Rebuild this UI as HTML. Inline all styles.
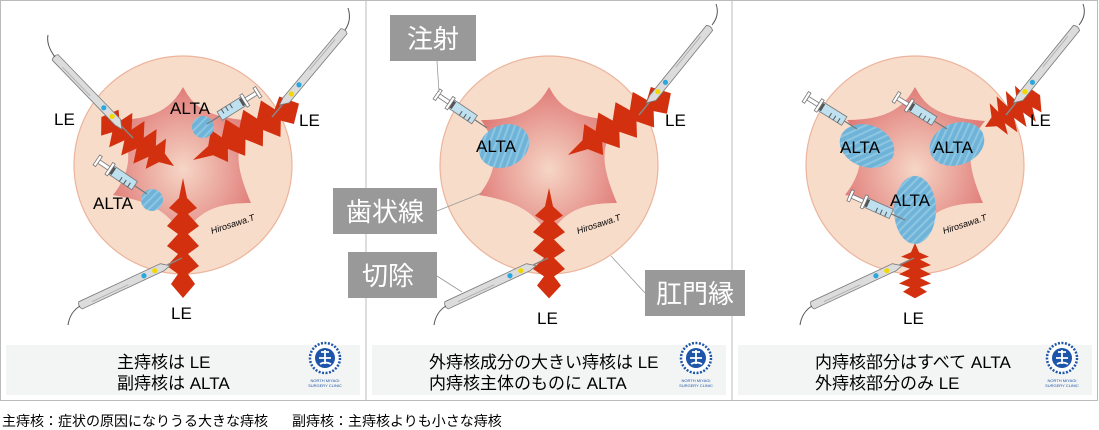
<!DOCTYPE html>
<html><head><meta charset="utf-8"><style>
body{margin:0;background:#fff}
svg{display:block}
text{font-family:"Liberation Sans","Noto Sans CJK JP",sans-serif}
</style></head><body>
<svg width="1099" height="430" viewBox="0 0 1099 430" xmlns="http://www.w3.org/2000/svg">
<defs>
<radialGradient id="sg" cx="0.5" cy="0.55" r="0.55">
<stop offset="0" stop-color="#f6d6c6"/><stop offset="1" stop-color="#e07c78"/>
</radialGradient>
<pattern id="hatch" width="6" height="6" patternUnits="userSpaceOnUse" patternTransform="rotate(45)">
<rect width="6" height="6" fill="#6fb4d8"/><rect width="2" height="6" fill="#8ec6e2"/>
</pattern>
<g id="star">
<circle r="109" fill="#f8dcca" stroke="#ecb49c" stroke-width="1.2"/>
<path d="M0,-78 C10,-60 20,-48 70,-44 C50,-20 52,0 68,38 C35,38 15,45 0,72 C-15,45 -35,36 -70,30 C-50,5 -50,-20 -68,-45 C-25,-45 -10,-60 0,-78Z" fill="url(#sg)"/>
</g>
<path id="zz" d="M0,0 L4,20 L14,30 L5,36 L16,48 L5,56 L16,68 L5,76 L16,88 L5,96 L12,106 L0,120 L-12,106 L-5,96 L-16,88 L-5,76 L-16,68 L-5,56 L-16,48 L-5,36 L-14,30 L-4,20Z" fill="#d2300e"/>
<g id="pen">
<line x1="0" y1="0" x2="16" y2="0" stroke="#888" stroke-width="1.5"/>
<path d="M14,-2 L22,-4 L112,-4 Q115,0 112,4 L22,4 Z" fill="#dcdcdc" stroke="#7a7a7a" stroke-width="0.8"/>
<line x1="60" y1="-1.5" x2="100" y2="-1.5" stroke="#aaa" stroke-width="0.8"/>
<circle cx="30" cy="0" r="2.6" fill="#f0d800"/>
<circle cx="42" cy="0" r="2.6" fill="#29a8e0"/>
</g>
<g id="syr">
<line x1="0" y1="0" x2="15" y2="0" stroke="#777" stroke-width="1.2"/>
<rect x="15" y="-5" width="28" height="10" fill="#bfe0ee" stroke="#777" stroke-width="0.8"/>
<line x1="20" y1="-5" x2="20" y2="0" stroke="#555"/><line x1="25" y1="-5" x2="25" y2="0" stroke="#555"/><line x1="30" y1="-5" x2="30" y2="0" stroke="#555"/>
<rect x="40" y="-4" width="4" height="8" fill="#555"/>
<rect x="43" y="-7" width="3" height="14" fill="#fff" stroke="#777" stroke-width="0.8"/>
<rect x="46" y="-2" width="12" height="4" fill="#fff" stroke="#777" stroke-width="0.8"/>
<rect x="58" y="-6" width="3" height="12" fill="#fff" stroke="#777" stroke-width="0.8"/>
</g>
<g id="logo">
<circle r="15" fill="#fff" stroke="#1e55a8" stroke-width="2.5" stroke-dasharray="2 1.5"/>
<circle r="10" fill="#1e55a8"/>
<path d="M-4,-6 L4,-6 M0,-8 L0,6 M-6,0 L6,0 M-5,6 Q0,3 6,6" stroke="#fff" stroke-width="1.8" fill="none"/>
<text y="24" font-size="4" text-anchor="middle" fill="#1e55a8">NORTH MIYAGI</text>
<text y="29" font-size="4" text-anchor="middle" fill="#1e55a8">SURGERY CLINIC</text>
</g>
</defs>

<rect x="0.5" y="0.5" width="1097" height="400" fill="#fff" stroke="#bbb"/>
<line x1="366" y1="0" x2="366" y2="401" stroke="#bbb"/>
<line x1="732" y1="0" x2="732" y2="401" stroke="#bbb"/>

<!-- Panel 1 -->
<use href="#star" x="183" y="165"/>
<use href="#zz" transform="translate(174,166) rotate(124) scale(1.3,0.73)"/>
<use href="#zz" transform="translate(193,160) rotate(-118) scale(1.3,1)"/>
<use href="#zz" transform="translate(183,178) scale(1,1)"/>
<circle cx="203" cy="127" r="11" fill="url(#hatch)"/>
<circle cx="152" cy="200" r="11" fill="url(#hatch)"/>
<use href="#syr" transform="translate(207,124) rotate(-32)"/>
<use href="#syr" transform="translate(147,194) rotate(214)"/>
<use href="#pen" transform="translate(133,138) rotate(226)"/>
<path d="M55,57 Q46,45 48,35" fill="none" stroke="#555"/>
<use href="#pen" transform="translate(272,117) rotate(-50)"/>
<path d="M345,30 Q352,20 348,8" fill="none" stroke="#555"/>
<use href="#pen" transform="translate(182,258) rotate(155)"/>
<path d="M80,306 Q70,312 68,325" fill="none" stroke="#555"/>
<text x="54" y="125" font-size="17">LE</text>
<text x="299" y="126" font-size="17">LE</text>
<text x="171" y="319" font-size="17">LE</text>
<text x="170" y="114" font-size="17">ALTA</text>
<text x="93" y="209" font-size="17">ALTA</text>
<text x="210" y="228" font-size="9" font-style="italic" font-family="Liberation Serif,serif" transform="rotate(-18 230 225)">Hirosawa.T</text>
<rect x="6" y="345" width="354" height="50" fill="#f3f5f5"/>
<text x="117" y="368" font-size="17">主痔核は LE</text>
<text x="117" y="389" font-size="17">副痔核は ALTA</text>
<use href="#logo" x="325" y="358"/>

<!-- Panel 2 -->
<use href="#star" x="549" y="165"/>
<use href="#zz" transform="translate(568,155) rotate(-121) scale(1.3,1)"/>
<use href="#zz" transform="translate(549,188) scale(1,0.92)"/>
<ellipse cx="504" cy="146" rx="26" ry="21" transform="rotate(-25 504 146)" fill="url(#hatch)"/>
<use href="#syr" transform="translate(487,128) rotate(214)"/>
<use href="#pen" transform="translate(639,115) rotate(-51)"/>
<path d="M712,25 Q720,15 716,4" fill="none" stroke="#555"/>
<use href="#pen" transform="translate(548,258) rotate(155)"/>
<path d="M446,306 Q436,312 434,325" fill="none" stroke="#555"/>
<text x="665" y="126" font-size="17">LE</text>
<text x="537" y="324" font-size="17">LE</text>
<text x="476" y="152" font-size="17">ALTA</text>
<text x="576" y="228" font-size="9" font-style="italic" font-family="Liberation Serif,serif" transform="rotate(-18 596 225)">Hirosawa.T</text>
<g stroke="#999" stroke-width="0.8">
<line x1="437" y1="61" x2="439" y2="92"/>
<line x1="437" y1="211" x2="482" y2="193"/>
<line x1="437" y1="276" x2="462" y2="292"/>
<line x1="611" y1="256" x2="645" y2="293"/>
</g>
<rect x="390" y="15" width="86" height="46" fill="#999"/>
<text x="433" y="48" font-size="26" fill="#fff" text-anchor="middle">注射</text>
<rect x="333" y="188" width="104" height="46" fill="#999"/>
<text x="385" y="221" font-size="26" fill="#fff" text-anchor="middle">歯状線</text>
<rect x="348" y="252" width="89" height="46" fill="#999"/>
<text x="388" y="285" font-size="26" fill="#fff" text-anchor="middle">切除</text>
<rect x="645" y="270" width="100" height="46" fill="#999"/>
<text x="695" y="303" font-size="26" fill="#fff" text-anchor="middle">肛門縁</text>
<rect x="372" y="345" width="354" height="50" fill="#f3f5f5"/>
<text x="429" y="368" font-size="17">外痔核成分の大きい痔核は LE</text>
<text x="429" y="389" font-size="17">内痔核主体のものに ALTA</text>
<use href="#logo" x="696" y="358"/>

<!-- Panel 3 -->
<use href="#star" x="915" y="165"/>
<use href="#zz" transform="translate(985,127) rotate(-120) scale(1.3,0.53)"/>
<use href="#zz" transform="translate(915,243) scale(1,0.46)"/>
<ellipse cx="867" cy="146" rx="28" ry="21" transform="rotate(20 867 146)" fill="url(#hatch)"/>
<ellipse cx="957" cy="144" rx="28" ry="21" transform="rotate(-20 957 144)" fill="url(#hatch)"/>
<ellipse cx="915" cy="210" rx="21" ry="34" fill="url(#hatch)"/>
<use href="#syr" transform="translate(857,129) rotate(212)"/>
<use href="#syr" transform="translate(947,129) rotate(212)"/>
<use href="#syr" transform="translate(905,220) rotate(204)"/>
<use href="#pen" transform="translate(1006,115) rotate(-51)"/>
<path d="M1079,25 Q1087,15 1083,4" fill="none" stroke="#555"/>
<use href="#pen" transform="translate(914,258) rotate(155)"/>
<path d="M812,306 Q802,312 800,325" fill="none" stroke="#555"/>
<text x="1030" y="126" font-size="17">LE</text>
<text x="903" y="324" font-size="17">LE</text>
<text x="840" y="153" font-size="17">ALTA</text>
<text x="933" y="153" font-size="17">ALTA</text>
<text x="890" y="206" font-size="17">ALTA</text>
<text x="942" y="228" font-size="9" font-style="italic" font-family="Liberation Serif,serif" transform="rotate(-18 962 225)">Hirosawa.T</text>
<rect x="738" y="345" width="354" height="50" fill="#f3f5f5"/>
<text x="815" y="368" font-size="17">内痔核部分はすべて ALTA</text>
<text x="815" y="389" font-size="17">外痔核部分のみ LE</text>
<use href="#logo" x="1062" y="358"/>

<text x="2" y="426" font-size="14">主痔核：症状の原因になりうる大きな痔核</text>
<text x="292" y="426" font-size="14">副痔核：主痔核よりも小さな痔核</text>
</svg>
</body></html>
